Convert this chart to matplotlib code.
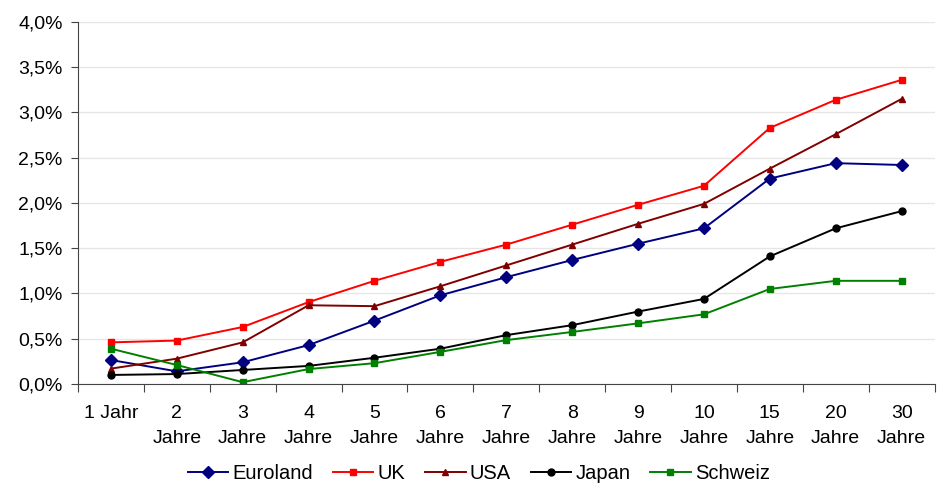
import matplotlib.pyplot as plt
from matplotlib.ticker import FuncFormatter

plt.rcParams['font.family'] = ['Liberation Sans', 'DejaVu Sans']

laufzeiten = ["1 Jahr", "2\nJahre", "3\nJahre", "4\nJahre", "5\nJahre", "6\nJahre", "7\nJahre",
              "8\nJahre", "9\nJahre", "10\nJahre", "15\nJahre", "20\nJahre", "30\nJahre"]

euroland = [0.265, 0.14, 0.24, 0.43, 0.70, 0.98, 1.18, 1.37, 1.55, 1.72, 2.27, 2.44, 2.42]
uk = [0.46, 0.48, 0.63, 0.905, 1.14, 1.35, 1.54, 1.76, 1.98, 2.19, 2.83, 3.14, 3.36]
usa = [0.17, 0.28, 0.46, 0.87, 0.86, 1.08, 1.31, 1.54, 1.77, 1.99, 2.38, 2.76, 3.15]
japan = [0.10, 0.11, 0.155, 0.20, 0.29, 0.39, 0.54, 0.65, 0.80, 0.94, 1.41, 1.72, 1.91]
schweiz = [0.39, 0.21, 0.02, 0.165, 0.23, 0.355, 0.485, 0.575, 0.67, 0.77, 1.05, 1.14, 1.14]

fig = plt.figure(figsize=(9.44, 4.84), dpi=100)
ax = fig.add_axes([0.0826, 0.2066, 0.9074, 0.748])

x = list(range(len(laufzeiten)))
ax.plot(x, euroland, color='#000080', marker='D', markersize=6, lw=1.4, label="Euroland")
ax.plot(x, uk, color='#FF0000', marker='s', markersize=5, lw=1.4, label="UK")
ax.plot(x, usa, color='#800000', marker='^', markersize=5, lw=1.4, label="USA")
ax.plot(x, japan, color='#000000', marker='o', markersize=5, lw=1.4, label="Japan")
ax.plot(x, schweiz, color='#008000', marker='s', markersize=5, lw=1.4, label="Schweiz")

ax.set_xlim(-0.5, len(laufzeiten) - 0.5)
ax.set_ylim(0, 4.0)
ax.set_yticks([i * 0.5 for i in range(9)])
ax.yaxis.set_major_formatter(FuncFormatter(lambda v, p: f"{v:.1f}%".replace('.', ',')))
ax.grid(axis='y', color='#e6e6e6', lw=1)
ax.set_axisbelow(True)

ax.set_xticks([i - 0.5 for i in range(len(laufzeiten) + 1)])
ax.set_xticklabels([])
ax.set_xticks(x, minor=True)
ax.set_xticklabels(laufzeiten, minor=True, fontsize=14, va='top', linespacing=1.6)
ax.tick_params(axis='x', which='minor', length=0, pad=15)
ax.tick_params(axis='x', which='major', length=6, color='#444444')
ax.tick_params(axis='y', length=5, color='#444444', labelsize=14, pad=6)

for s in ['top', 'right']:
    ax.spines[s].set_visible(False)
for s in ['left', 'bottom']:
    ax.spines[s].set_color('#444444')

ax.legend(loc='center', bbox_to_anchor=(0.468, -0.246), ncol=5, frameon=False,
          fontsize=14.5, handlelength=2.0, columnspacing=1.0, handletextpad=0.2)

fig.savefig("out.png", dpi=100)
